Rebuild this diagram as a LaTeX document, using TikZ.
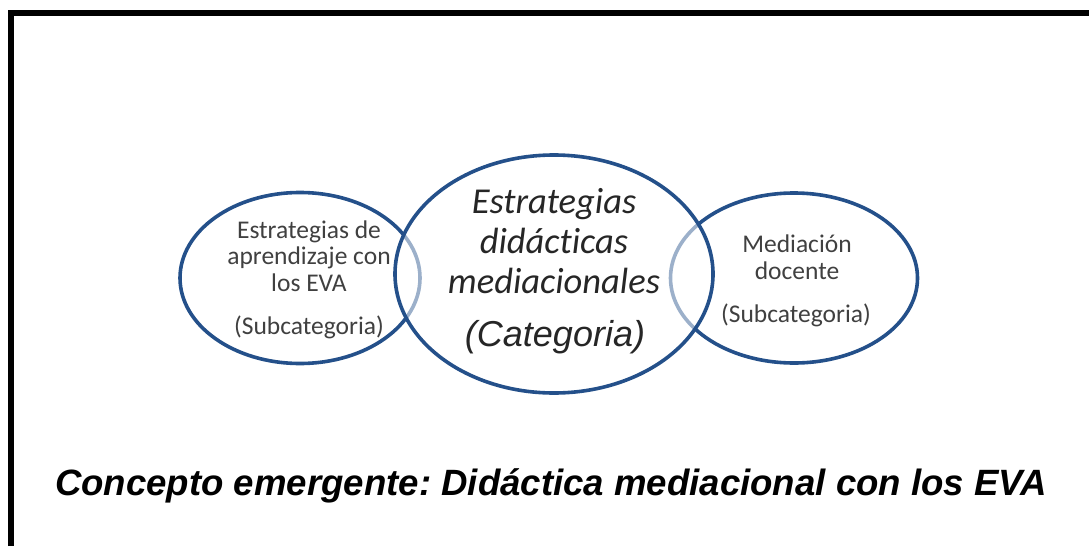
\documentclass[tikz,border=0pt]{standalone}
\usepackage{fontspec}
\setmainfont{Carlito}[Ligatures=NoCommon]
\newfontfamily\arialfont{Liberation Sans}
\usetikzlibrary{shapes.geometric}
\definecolor{ellblue}{HTML}{24508A}
\definecolor{txtgray}{HTML}{404040}
\definecolor{txtdark}{HTML}{262626}
\frenchspacing
\tikzset{
  venn/.style={ellipse, draw=ellblue, line width=3.6pt, inner sep=0pt},
  subtxt/.style={text=txtgray, font=\fontsize{25.5}{26.5}\selectfont, align=center, inner sep=0pt},
  cattxt/.style={text=txtdark, font=\fontsize{36.5}{40}\selectfont\itshape, align=center, inner sep=0pt},
  frame/.style={line width=6pt, draw=black}
}
\begin{document}
\begin{tikzpicture}[x=1pt,y=-1pt]
\useasboundingbox (0,0) rectangle (1089,546);
\fill[white] (0,0) rectangle (1089,546);
\coordinate (fa) at (11,546);
\coordinate (fb) at (11,13);
\coordinate (fc) at (1089,13);
\draw[frame] (fa) -- (fb) -- (fc);
% side ellipses
\node[venn, minimum width=240pt, minimum height=171pt] (L) at (300,278) {};
\node[venn, minimum width=247pt, minimum height=170pt] (R) at (794,278) {};
% middle ellipse, semi-transparent white fill lightens the overlapped arcs
\node[ellipse, fill=white, fill opacity=0.55, minimum width=318pt, minimum height=238pt, inner sep=0pt] (Mf) at (554,274) {};
\node[venn, minimum width=318pt, minimum height=238pt] (M) at (554,274) {};
% texts
\node[subtxt] (Lt) at (309,256) {Estrategias de\\aprendizaje con\\los EVA};
\node[subtxt] (Ls) at (309,327) {(Subcategoria)};
\node[cattxt] (Mt) at (554,241) {Estrategias\\didácticas\\mediacionales};
\node[text=txtdark, font=\arialfont\fontsize{36}{40}\selectfont\itshape, inner sep=0pt] (Ms) at (555,337) {(Categoria)};
\node[subtxt] (Rt) at (797,257) {Mediación\\docente};
\node[subtxt] (Rs) at (796,315) {(Subcategoria)};
\node[text=black, font=\arialfont\fontsize{36.6}{40}\selectfont\bfseries\itshape, inner sep=0pt] (C) at (551,486) {Concepto emergente: Didáctica mediacional con los EVA};
\end{tikzpicture}
\end{document}
